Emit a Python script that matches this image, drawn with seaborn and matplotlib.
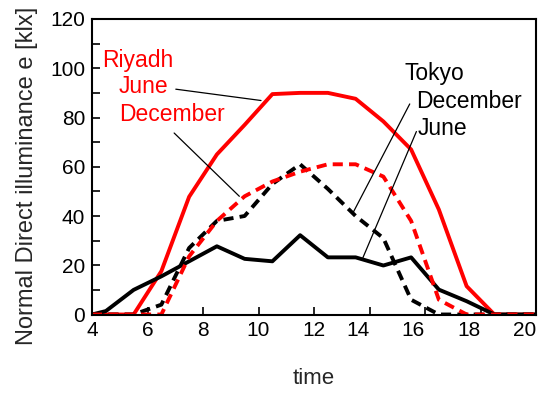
import matplotlib
matplotlib.use("Agg")
import matplotlib.pyplot as plt
import seaborn as sns

sns.set_theme(style="ticks")
plt.rcParams['font.family'] = ['Liberation Sans', 'DejaVu Sans']

# hours (x values)
hours = [4, 4.5, 5.5, 6.5, 7.5, 8.5, 9.5, 10.5, 11.5, 12.5, 13.5, 14.5, 15.5, 16.5, 17.5, 18.5, 19.5, 20]

riyadh_june = [0, 0, 0, 17.6, 47.8, 65, 77, 89.5, 90, 90, 87.6, 78.4, 67, 42.6, 11.5, 0, 0, 0]
riyadh_dec = [0, 0, 0, 0, 23.6, 38, 48, 54, 58, 61, 61, 56, 38, 6, 0, 0, 0, 0]
tokyo_june = [0, 1.4, 10, 15.5, 21.6, 27.7, 22.6, 21.6, 32.2, 23.2, 23.2, 19.9, 23.2, 10.1, 5.4, 0, 0, 0]
tokyo_dec = [0, 0, 0, 4, 27, 38, 40, 53, 61, 51, 40, 31, 6, 0, 0, 0, 0, 0]

fig = plt.figure(figsize=(5.45, 3.95), dpi=100)
ax = fig.add_axes([92/545, 1-314.5/395, (536-92)/545, (314.5-19)/395])

lw = 2.8
dash = (0, (2.6, 1.6))
sns.lineplot(x=hours, y=riyadh_june, ax=ax, color='#ff0000', lw=lw)
sns.lineplot(x=hours, y=tokyo_june, ax=ax, color='black', lw=lw)
sns.lineplot(x=hours, y=tokyo_dec, ax=ax, color='black', lw=lw, linestyle=dash)
sns.lineplot(x=hours, y=riyadh_dec, ax=ax, color='#ff0000', lw=lw, linestyle=dash)

ax.set_xlim(4, 20)
ax.set_ylim(0, 120)
ax.set_xticks(range(4, 21, 2))
ax.set_yticks(range(0, 121, 20))
ax.set_yticks(range(0, 121, 10), minor=True)
ax.tick_params(axis='both', which='both', direction='in', labelsize=15, colors='black', length=6, width=1.2, pad=5)
for lab in ax.get_xticklabels():
    try:
        v = float(lab.get_text())
    except ValueError:
        continue
    if v >= 14:
        lab.set_horizontalalignment('right')
for s in ax.spines.values():
    s.set_linewidth(1.5)
    s.set_color('black')
ax.set_xlabel('time', fontsize=16, labelpad=20)
ax.set_ylabel('Normal Direct illuminance e [klx]', fontsize=17)
ax.yaxis.set_label_coords(-0.122, 0.469)

fs = 16.5
ax.text(4.37, 100.6, 'Riyadh', color='#ff0000', fontsize=fs, va='baseline', ha='left')
ax.text(4.95, 89.9, 'June', color='#ff0000', fontsize=fs, va='baseline', ha='left')
ax.text(4.97, 78.4, 'December', color='#ff0000', fontsize=fs, va='baseline', ha='left')
ax.plot([7.02, 10.09], [91.5, 86.9], color='black', lw=0.9)
ax.plot([6.96, 9.31], [73.7, 48.0], color='black', lw=0.9)

ax.text(15.27, 95.3, 'Tokyo', color='black', fontsize=fs, va='baseline', ha='left')
ax.text(15.69, 83.8, 'December', color='black', fontsize=fs, va='baseline', ha='left')
ax.text(15.75, 73.0, 'June', color='black', fontsize=fs, va='baseline', ha='left')
ax.plot([15.45, 13.40], [85.5, 41.2], color='black', lw=0.9)
ax.plot([15.69, 13.76], [74.3, 23.0], color='black', lw=0.9)

fig.savefig('out.png', dpi=100)
